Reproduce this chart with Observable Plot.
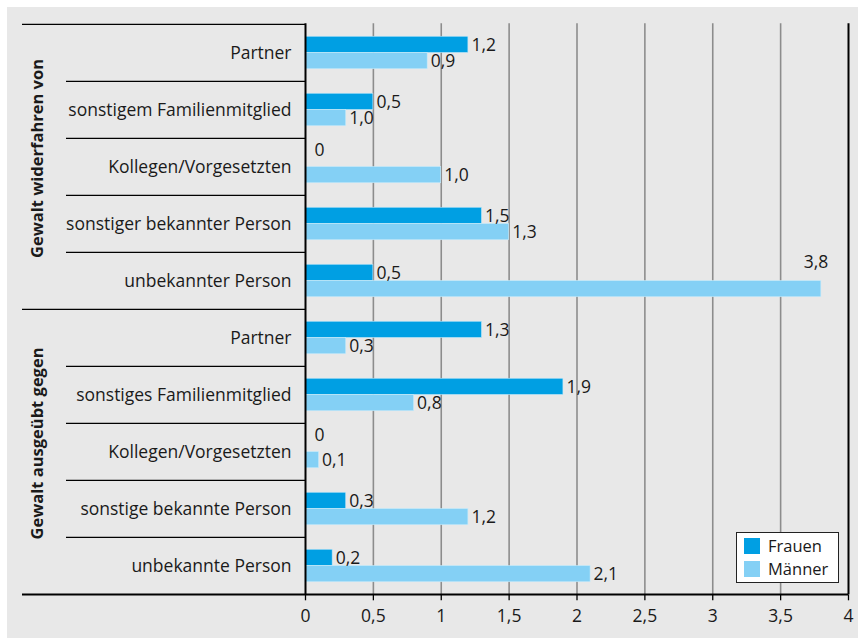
<!DOCTYPE html>
<html>
<head>
<meta charset="utf-8">
<script src="https://cdn.jsdelivr.net/npm/d3@7"></script>
<script src="https://cdn.jsdelivr.net/npm/@observablehq/plot@0.6"></script>
<style>
  html, body { margin: 0; padding: 0; background: #ffffff; }
  #wrap { position: absolute; left: 7px; top: 7px; width: 851px; height: 631px; background: #e8e8e8; overflow: hidden; }
  #wrap svg { position: absolute; left: 0; top: 0; }
  #legend { position: absolute; left: 729px; top: 525px; width: 101px; height: 49px; background: #fff; border: 1.5px solid #222;
    font-family: "Open Sans", sans-serif; font-size: 16.5px; color: #1a1a1a; }
  .li { position: absolute; left: 7px; height: 16px; line-height: 16px; white-space: nowrap; }
  .sw { display: inline-block; width: 16px; height: 16px; vertical-align: top; margin-right: 8px; }
</style>
</head>
<body>
<div id="wrap"></div>
<script>
const groups = ["Gewalt widerfahren von", "Gewalt ausgeübt gegen"];
const categories = [
  "Partner", "sonstigem Familienmitglied", "Kollegen/Vorgesetzten", "sonstiger bekannter Person", "unbekannter Person",
  "Partner", "sonstiges Familienmitglied", "Kollegen/Vorgesetzten", "sonstige bekannte Person", "unbekannte Person"
];
const categoryGroup = [0, 0, 0, 0, 0, 1, 1, 1, 1, 1];
const series = ["Frauen", "Männer"];
const frauen = [1.2, 0.5, 0, 1.3, 0.5, 1.3, 1.9, 0, 0.3, 0.2];
const maenner = [0.9, 0.3, 1.0, 1.5, 3.8, 0.3, 0.8, 0.1, 1.2, 2.1];
const frauenLabels = ["1,2", "0,5", "0", "1,5", "0,5", "1,3", "1,9", "0", "0,3", "0,2"];
const maennerLabels = ["0,9", "1,0", "1,0", "1,3", "3,8", "0,3", "0,8", "0,1", "1,2", "2,1"];
const xTicks = [0, 0.5, 1, 1.5, 2, 2.5, 3, 3.5, 4];

const colors = {Frauen: "#009fe3", "Männer": "#84d0f5"};
const ids = categories.map((_, i) => "r" + i);
const rowsF = ids.map((id, i) => ({id, value: frauen[i], label: frauenLabels[i], cat: categories[i]}));
const rowsM = ids.map((id, i) => ({id, value: maenner[i], label: maennerLabels[i], cat: categories[i]}));
const rows = ids.map((id, i) => ({id, cat: categories[i], group: categoryGroup[i], i}));

const W = 851, H = 631, mL = 298, mR = 10, mT = 16.3, mB = 43.7;
const band = (H - mT - mB) / ids.length;
const half = band / 2;
const barH = 16.3;
const barOff = (band - 2 * barH) / 2;
const barMid = half - barOff - barH / 2;

const sepRows = rows.map(r => ({id: r.id, full: r.i === 0 || categoryGroup[r.i] !== categoryGroup[r.i - 1]}));
const groupCenters = groups.map((g, gi) => {
  const idx = rows.filter(r => r.group === gi).map(r => r.i);
  return {g, id: ids[idx[Math.floor(idx.length / 2)]], gi};
});

const fontFamily = '"Open Sans", sans-serif';
const FS = 17.5;
const fmt = d => String(d).replace(".", ",");

const chart = Plot.plot({
  width: W, height: H,
  marginLeft: mL, marginRight: mR, marginTop: mT, marginBottom: mB,
  style: {background: "transparent", fontFamily, fontSize: FS + "px", color: "#1a1a1a", overflow: "visible"},
  x: {domain: [0, 4], ticks: xTicks, tickFormat: fmt, label: null},
  y: {domain: ids, paddingInner: 0, paddingOuter: 0, axis: null},
  marks: [
    Plot.ruleX(xTicks.filter(d => d > 0 && d < 4), {stroke: "#8c8c8c", strokeWidth: 1.6}),
    Plot.barX(rowsF, {x: "value", y: "id", fill: colors.Frauen, insetTop: barOff, insetBottom: band - barOff - barH, stroke: "#bfe6f8", strokeWidth: 0.6}),
    Plot.barX(rowsM, {x: "value", y: "id", fill: colors["Männer"], insetTop: barOff + barH, insetBottom: barOff, stroke: "#c8ebfa", strokeWidth: 0.6}),
    Plot.ruleX([4], {stroke: "#000", strokeWidth: 2}),
    Plot.ruleX([0], {stroke: "#000", strokeWidth: 2}),
    Plot.ruleY(sepRows, {y: "id", dy: -half, x1: 0, x2: 0, stroke: "#000", strokeWidth: 1.3}),
    Plot.axisX({ticks: xTicks, tickFormat: fmt, tickSize: 6, tickPadding: 9, fontSize: FS, stroke: "#000", strokeWidth: 1.3, label: null, fill: "#1a1a1a"}),
    Plot.ruleY([ids[ids.length - 1]], {dy: half, stroke: "#000", strokeWidth: 2}),
    Plot.text(rows, {y: "id", text: "cat", frameAnchor: "left", dx: -14, textAnchor: "end", fontSize: FS, fill: "#1a1a1a"}),
    Plot.text(groupCenters, {y: "id", text: "g", frameAnchor: "left", textAnchor: "middle", dx: 30 - mL, dy: -8.5, rotate: -90, fontWeight: "bold", fontSize: 16.5, fill: "#1a1a1a"}),
    Plot.text(rowsF, {x: "value", y: "id", text: "label", dy: -barMid + 0.5, dx: 3, textAnchor: "start", fontSize: FS, fill: "#1a1a1a",
      filter: d => d.value > 0}),
    Plot.text(rowsF, {x: "value", y: "id", text: "label", dy: -barMid - 8, dx: 9, textAnchor: "start", fontSize: FS, fill: "#1a1a1a",
      filter: d => d.value === 0}),
    Plot.text(rowsM, {x: "value", y: "id", text: "label", dy: barMid + 0.5, dx: 3, textAnchor: "start", fontSize: FS, fill: "#1a1a1a",
      filter: d => d.value < 3.5}),
    Plot.text(rowsM, {x: "value", y: "id", text: "label", dy: barMid - 27, dx: 7, textAnchor: "end", fontSize: FS, fill: "#1a1a1a",
      filter: d => d.value >= 3.5})
  ]
});

const wrap = document.getElementById("wrap");
wrap.appendChild(chart);

const svg = d3.select(chart);
// extend row separators into the label area
svg.selectAll("g[aria-label='rule']").nodes().forEach(g => {
  const lines = d3.select(g).selectAll("line");
  if (lines.size() === ids.length) {
    lines.each(function(d, k) {
      d3.select(this).attr("x1", sepRows[k].full ? 15 : 59).attr("x2", mL);
    });
  } else if (lines.size() === 1) {
    const l = lines.node();
    if (l.getAttribute("y1") === l.getAttribute("y2")) d3.select(l).attr("x1", 15);
  }
});

const legend = document.createElement("div");
legend.id = "legend";
series.forEach((s, i) => {
  const item = document.createElement("div");
  item.className = "li";
  item.style.top = (5 + i * 23) + "px";
  item.innerHTML = `<span class="sw" style="background:${colors[s]}"></span>${s}`;
  legend.appendChild(item);
});
wrap.appendChild(legend);
</script>
</body>
</html>
